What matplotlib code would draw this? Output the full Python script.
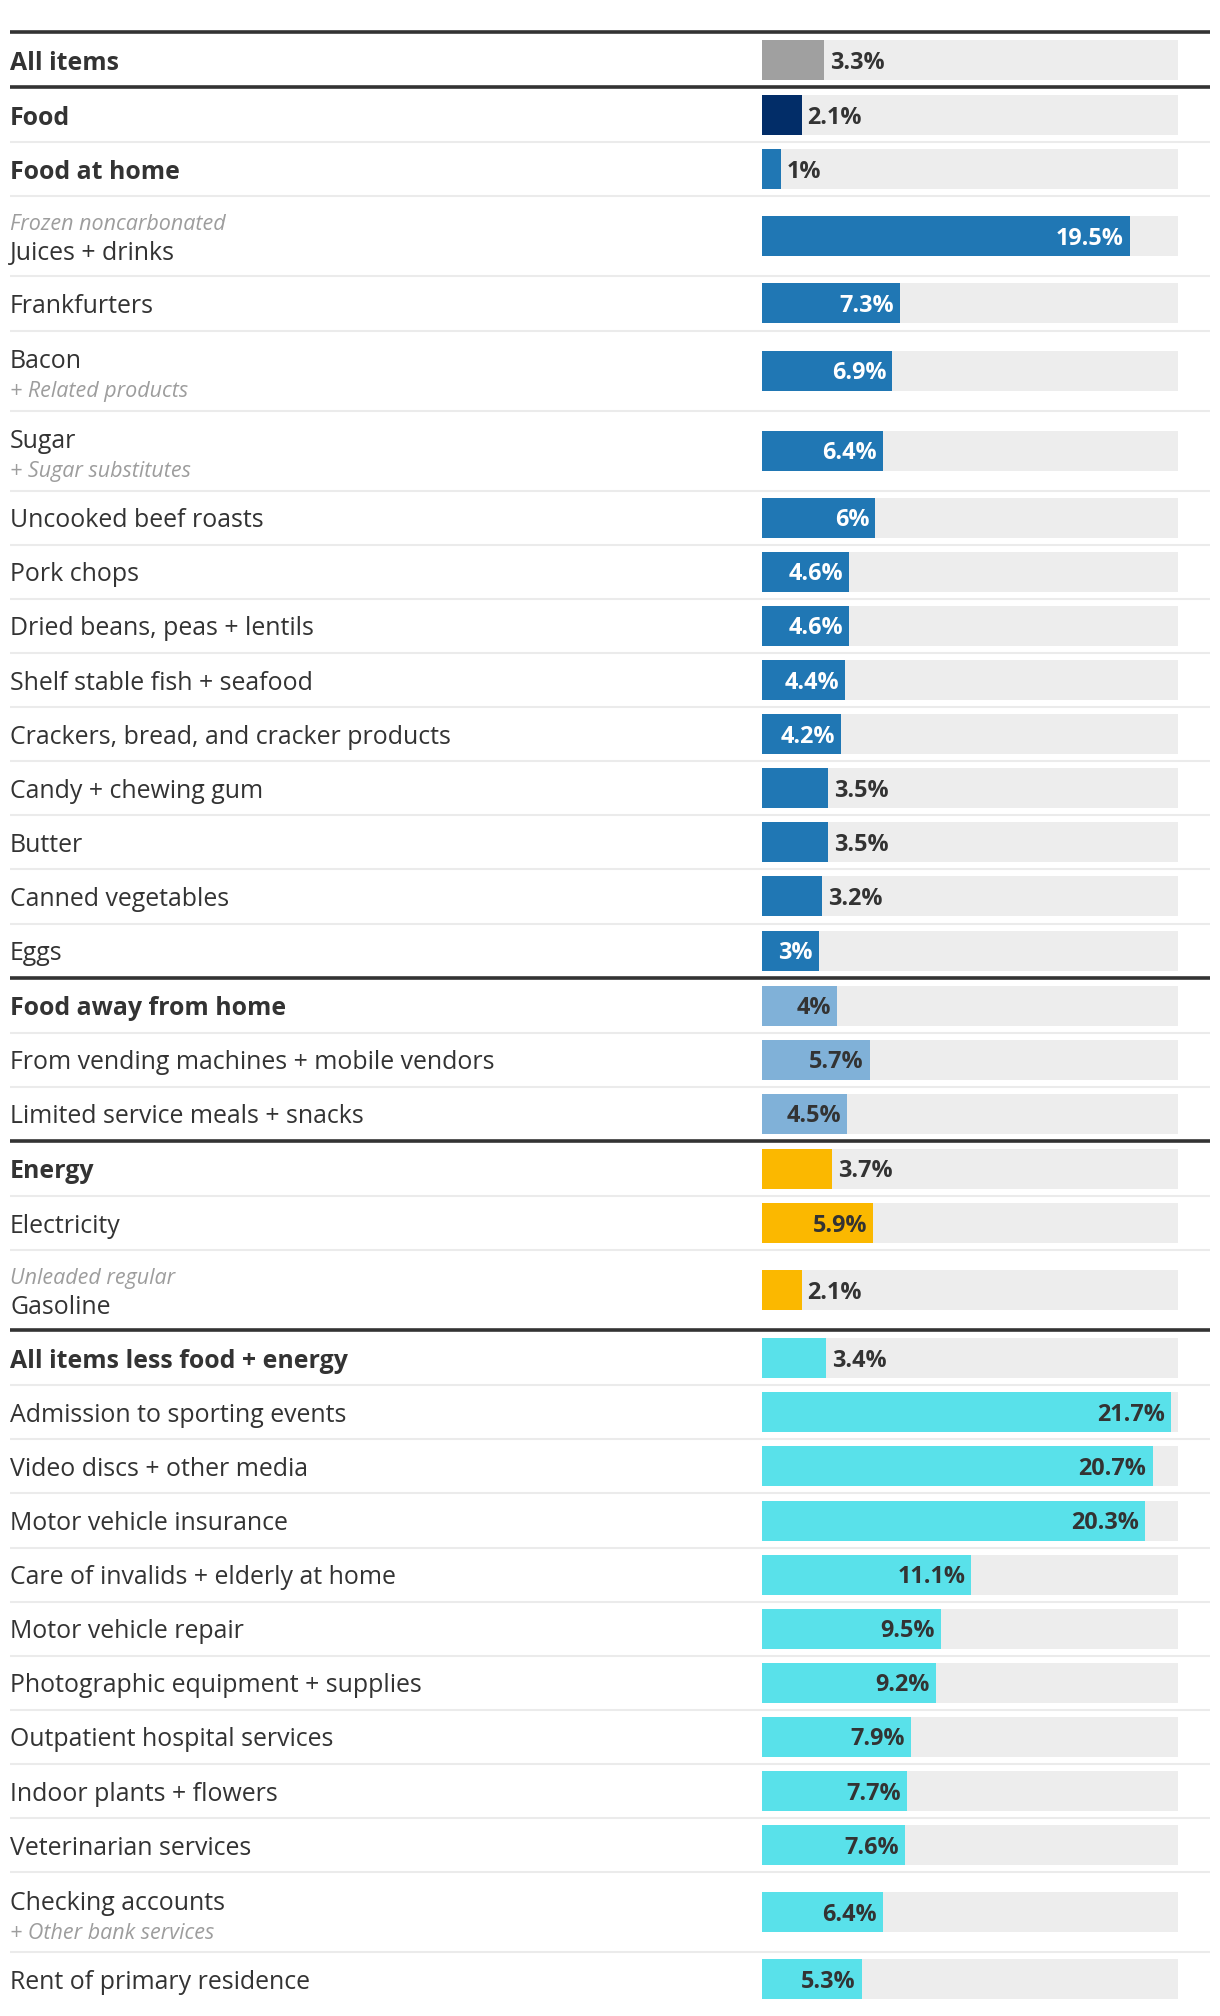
import matplotlib
matplotlib.use("Agg")
import matplotlib.pyplot as plt

# ---------------- data ----------------
labels = [
    "All items", "Food", "Food at home", "Juices + drinks", "Frankfurters",
    "Bacon", "Sugar", "Uncooked beef roasts", "Pork chops",
    "Dried beans, peas + lentils", "Shelf stable fish + seafood",
    "Crackers, bread, and cracker products", "Candy + chewing gum", "Butter",
    "Canned vegetables", "Eggs", "Food away from home",
    "From vending machines + mobile vendors", "Limited service meals + snacks",
    "Energy", "Electricity", "Gasoline", "All items less food + energy",
    "Admission to sporting events", "Video discs + other media",
    "Motor vehicle insurance", "Care of invalids + elderly at home",
    "Motor vehicle repair", "Photographic equipment + supplies",
    "Outpatient hospital services", "Indoor plants + flowers",
    "Veterinarian services", "Checking accounts", "Rent of primary residence",
]
values = [3.3, 2.1, 1.0, 19.5, 7.3, 6.9, 6.4, 6.0, 4.6, 4.6, 4.4, 4.2, 3.5, 3.5,
          3.2, 3.0, 4.0, 5.7, 4.5, 3.7, 5.9, 2.1, 3.4, 21.7, 20.7, 20.3, 11.1,
          9.5, 9.2, 7.9, 7.7, 7.6, 6.4, 5.3]
value_text = ["3.3%", "2.1%", "1%", "19.5%", "7.3%", "6.9%", "6.4%", "6%", "4.6%",
              "4.6%", "4.4%", "4.2%", "3.5%", "3.5%", "3.2%", "3%", "4%", "5.7%",
              "4.5%", "3.7%", "5.9%", "2.1%", "3.4%", "21.7%", "20.7%", "20.3%",
              "11.1%", "9.5%", "9.2%", "7.9%", "7.7%", "7.6%", "6.4%", "5.3%"]
groups = ["all", "food", "home", "home", "home", "home", "home", "home", "home",
          "home", "home", "home", "home", "home", "home", "home", "away", "away",
          "away", "energy", "energy", "energy", "core", "core", "core", "core",
          "core", "core", "core", "core", "core", "core", "core", "core"]
headers = ["All items", "Food", "Food at home", "Food away from home", "Energy",
           "All items less food + energy"]
thick_before = ["All items", "Food", "Food away from home", "Energy",
                "All items less food + energy"]
sub_above = {"Juices + drinks": "Frozen noncarbonated",
             "Gasoline": "Unleaded regular"}
sub_below = {"Bacon": "+ Related products", "Sugar": "+ Sugar substitutes",
             "Checking accounts": "+ Other bank services"}
axis_max = 22.05

# ---------------- style ----------------
colors = {"all": "#a0a0a0", "food": "#022d68", "home": "#2077b4",
          "away": "#80b1d8", "energy": "#fbb800", "core": "#59e1ea"}
inside_text = {"all": "#333333", "food": "white", "home": "white",
               "away": "#333333", "energy": "#333333", "core": "#333333"}
FONT = "Open Sans"
LAB_FS = 17.9
VAL_FS = 16.8
SUB_FS = 15.5
W, H = 1220, 2016
SINGLE, DOUBLE = 54.1, 80.1
top = 32
bar_left, bar_right = 762, 1178
dy = 3  # text baseline nudge (px)

fig = plt.figure(figsize=(W / 100, H / 100), dpi=100)
axf = fig.add_axes([0, 0, 1, 1])
axf.set_xlim(0, W)
axf.set_ylim(H, 0)
axf.axis("off")
axb = fig.add_axes([bar_left / W, 0, (bar_right - bar_left) / W, 1])
axb.set_xlim(0, axis_max)
axb.set_ylim(H, 0)
axb.axis("off")

px_per = (bar_right - bar_left) / axis_max
y = top
centers, heights = [], []
for lab in labels:
    if lab in thick_before:
        axf.plot([10, 1210], [y, y], color="#333333", lw=2.6,
                 solid_capstyle="butt", zorder=3)
        y += 1
    else:
        axf.plot([10, 1210], [y, y], color="#ebebeb", lw=1.5,
                 solid_capstyle="butt", zorder=2)
    h = DOUBLE if (lab in sub_above or lab in sub_below) else SINGLE
    centers.append(y + h / 2)
    heights.append(h)
    y += h

cols = [colors[g] for g in groups]
axb.barh(centers, [axis_max] * len(labels), height=40, color="#ededed", zorder=1)
axb.barh(centers, values, height=40, color=cols, zorder=2)

fig.canvas.draw()
renderer = fig.canvas.get_renderer()
for lab, v, t, g, c, h in zip(labels, values, value_text, groups, centers, heights):
    bold = lab in headers
    lx = 10
    if lab in sub_above:
        axf.text(lx, c - 15 + dy, sub_above[lab], fontsize=SUB_FS, style="italic",
                 color="#9d9d9d", family=FONT, va="center")
        axf.text(lx, c + 14 + dy, lab, fontsize=LAB_FS, color="#333333",
                 family=FONT, va="center")
    elif lab in sub_below:
        axf.text(lx, c - 12 + dy, lab, fontsize=LAB_FS, color="#333333",
                 family=FONT, va="center")
        axf.text(lx, c + 18 + dy, sub_below[lab], fontsize=SUB_FS, style="italic",
                 color="#9d9d9d", family=FONT, va="center")
    else:
        axf.text(lx, c + dy, lab, fontsize=LAB_FS, color="#333333", family=FONT,
                 va="center", fontweight="bold" if bold else "normal")
    # value label
    tmp = axb.text(0, c, t, fontsize=VAL_FS, fontweight="bold", family=FONT)
    tw = tmp.get_window_extent(renderer).width
    tmp.remove()
    bar_px = v * px_per
    if bar_px >= tw + 20:
        axb.annotate(t, (v, c), xytext=(-6 * 0.72, -dy * 0.6),
                     textcoords="offset points", ha="right", va="center",
                     fontsize=VAL_FS, fontweight="bold", family=FONT,
                     color=inside_text[g], zorder=4)
    else:
        axb.annotate(t, (v, c), xytext=(6 * 0.72, -dy * 0.6),
                     textcoords="offset points", ha="left", va="center",
                     fontsize=VAL_FS, fontweight="bold", family=FONT,
                     color="#333333", zorder=4)

fig.savefig("out.png", dpi=100, facecolor="white")
